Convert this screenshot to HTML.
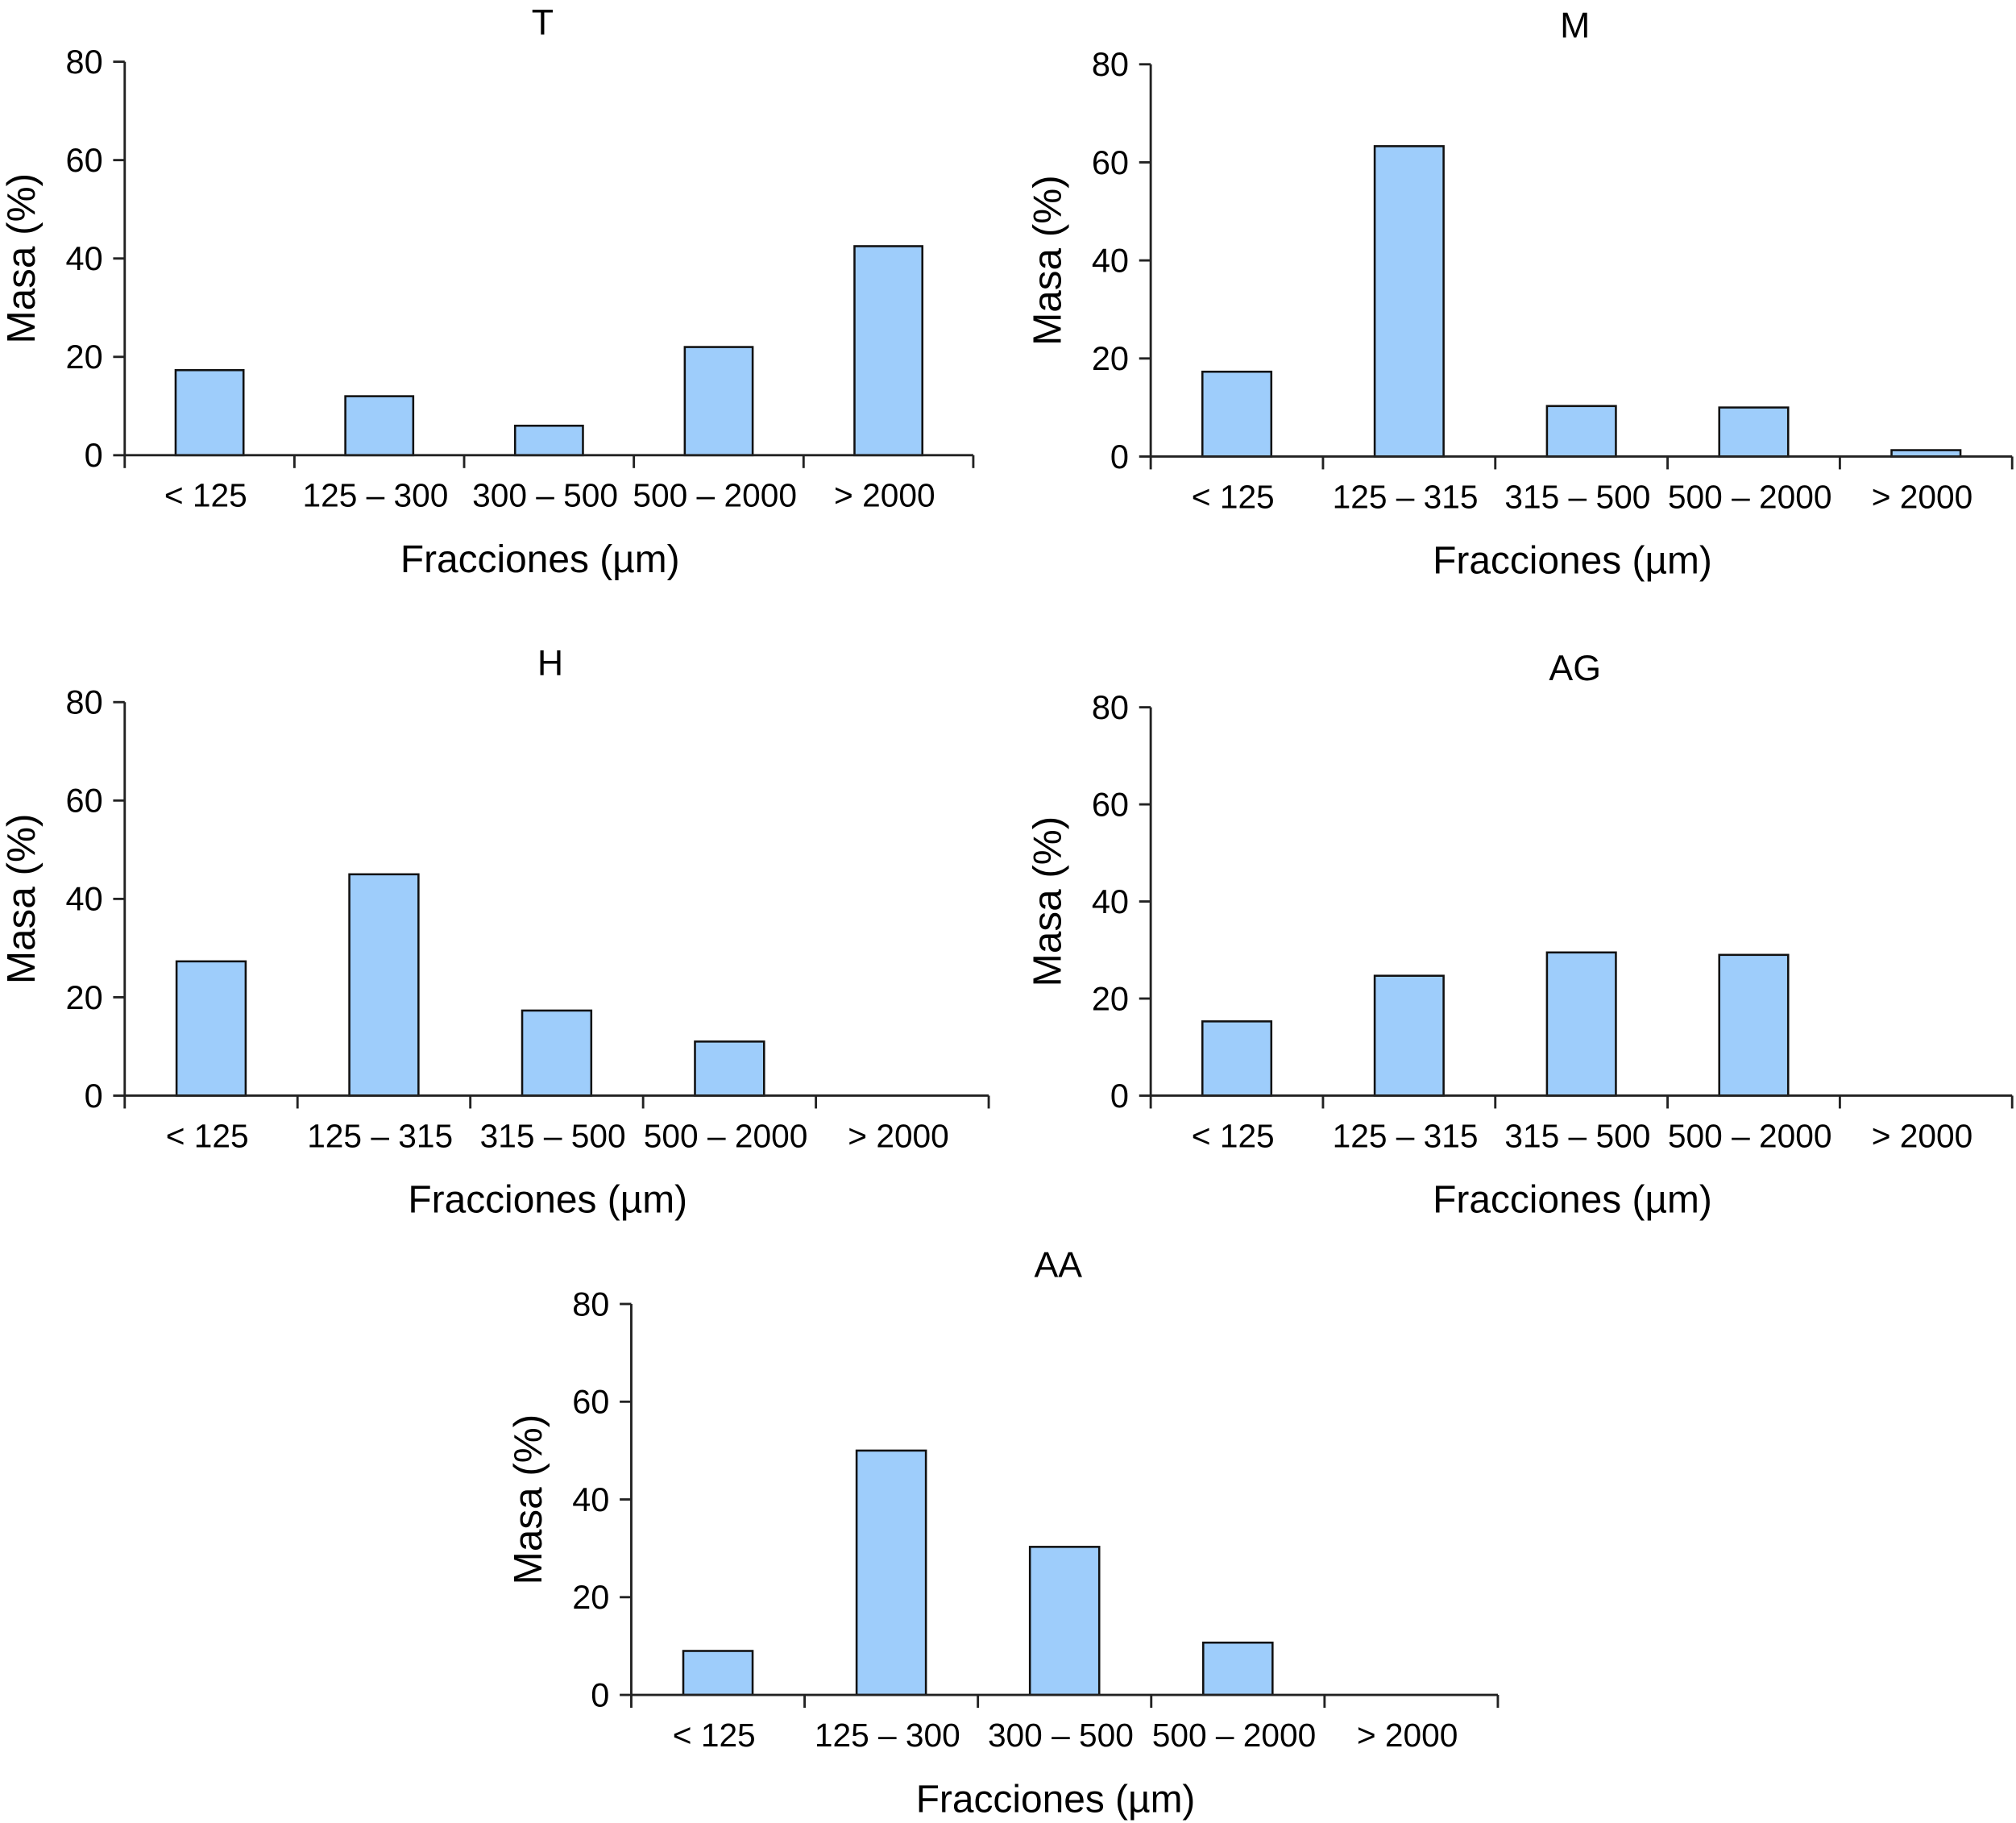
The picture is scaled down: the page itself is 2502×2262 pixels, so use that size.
<!DOCTYPE html>
<html><head><meta charset="utf-8"><style>
html,body{margin:0;padding:0;background:#fff;}
svg{display:block;}
text{font-family:"Liberation Sans",Arial,sans-serif;fill:#000;}
</style></head>
<body>
<svg id="fig" width="2502" height="2262" viewBox="0 0 1568 1417.6" preserveAspectRatio="none" xmlns="http://www.w3.org/2000/svg"></svg>
<script>
const catsA = ["< 125","125 – 300","300 – 500","500 – 2000","> 2000"];
const catsB = ["< 125","125 – 315","315 – 500","500 – 2000","> 2000"];
const yTicks = [0,20,40,60,80];
const valsT = [17.3, 12, 6, 22, 42.5];
const valsM = [17.3, 63.3, 10.3, 10, 1.3];
const valsH = [27.3, 45, 17.3, 11, 0];
const valsAG = [15.3, 24.7, 29.5, 29, 0];
const valsAA = [9, 50, 30.3, 10.7, 0];

const NS = "http://www.w3.org/2000/svg";
const svg = document.getElementById('fig');
function mk(tag, attrs, parent){
  const e = document.createElementNS(NS, tag);
  for (const k in attrs) e.setAttribute(k, attrs[k]);
  (parent||svg).appendChild(e);
  return e;
}
function panel(id, title, cats, vals, L, R, T, B){
  const g = mk('g', {});
  
  
  const yScale = v => B - (v / 80) * (B - T);
  const bw = (R - L) / cats.length;
  const xScale = i => L + bw * (i + 0.5);
  vals.forEach((v, i) => {
    if (v <= 0) return;
    const w = bw * 0.4;
    const r = mk('rect', {x: xScale(i) - w/2, y: yScale(v), width: w, height: B - yScale(v), fill: '#9ecdfb', stroke: '#111', 'stroke-width': 1.6}, g);
    
    
  });
  const ya = mk('line', {x1: L, y1: T, x2: L, y2: B, stroke: '#222', 'stroke-width': 1.8}, g);
  
  
  yTicks.forEach(t => {
    mk('line', {x1: L - 9, y1: yScale(t), x2: L, y2: yScale(t), stroke: '#222', 'stroke-width': 1.8}, g);
    const tx = mk('text', {x: L - 17, y: yScale(t) + 9, 'text-anchor': 'end', 'font-size': 26}, g);
    tx.textContent = t;
    
    
  });
  const xa = mk('line', {x1: L, y1: B, x2: R, y2: B, stroke: '#222', 'stroke-width': 1.8}, g);
  
  
  for (let i = 0; i <= cats.length; i++) {
    mk('line', {x1: L + bw * i, y1: B, x2: L + bw * i, y2: B + 10, stroke: '#222', 'stroke-width': 1.8}, g);
  }
  cats.forEach((c, i) => {
    const tx = mk('text', {x: xScale(i) - 3, y: B + 40, 'text-anchor': 'middle', 'font-size': 25.5}, g);
    tx.textContent = c;
    
    
  });
  const xt = mk('text', {x: (L + R) / 2 - 7, y: B + 91, 'text-anchor': 'middle', 'font-size': 30}, g);
  xt.textContent = 'Fracciones (µm)';
  
  
  const cy = (T + B) / 2;
  const yt = mk('text', {x: L - 70, y: cy, 'text-anchor': 'middle', 'font-size': 31, transform: 'rotate(-90 ' + (L - 70) + ' ' + cy + ')'}, g);
  yt.textContent = 'Masa (%)';
  
  
  const tt = mk('text', {x: (L + R) / 2 - 5, y: T - 21, 'text-anchor': 'middle', 'font-size': 28}, g);
  tt.textContent = title;
  
  
}
panel('t', 'T', catsA, valsT, 97, 757, 48, 354);
panel('m', 'M', catsB, valsM, 895, 1565, 50, 355);
panel('h', 'H', catsB, valsH, 97, 769, 546, 852);
panel('ag', 'AG', catsB, valsAG, 895, 1565, 550, 852);
panel('aa', 'AA', catsA, valsAA, 491, 1165, 1014, 1318);
</script>
</body></html>
